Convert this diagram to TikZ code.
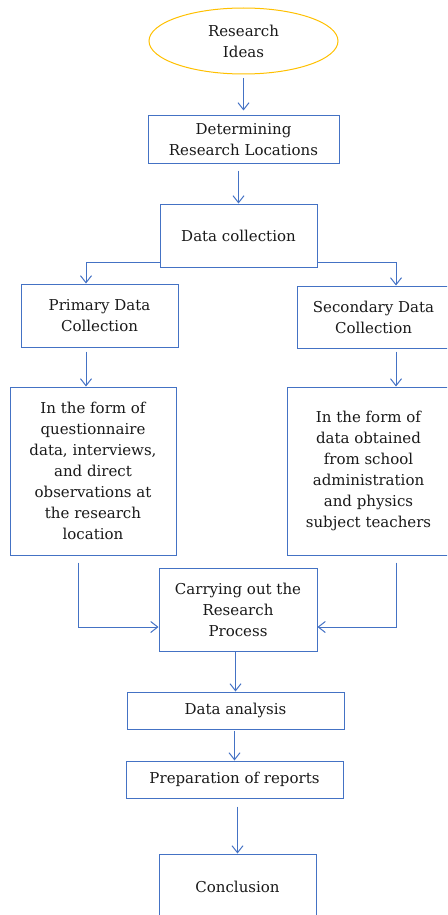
\documentclass[tikz,border=0pt]{standalone}
\usepackage{fontspec}
\setmainfont{DejaVu Serif}
\usetikzlibrary{arrows.meta,calc,shapes.geometric}
\definecolor{lblue}{HTML}{4472C4}
\definecolor{gold}{HTML}{FFC000}
\begin{document}
\begin{tikzpicture}[x=1pt,y=-1pt,
 box/.style={draw=lblue, line width=1pt, align=center, inner sep=0pt, font=\fontsize{15}{21}\selectfont, text=black!90},
 arr/.style={draw=lblue, line width=1pt, -{Straight Barb[length=7pt,width=11pt]}}]
\useasboundingbox (0,0) rectangle (447,915);
\clip (0,0) rectangle (447,915);
\node[box, ellipse, draw=gold, minimum width=189pt, minimum height=66pt] (idea) at (243.5,41) {Research\\Ideas};
\node[box, minimum width=191pt, minimum height=47pt] (loc) at (243.5,139.5) {Determining\\Research Locations};
\node[box, minimum width=157pt, minimum height=63pt] (dc) at (238.5,235.5) {Data collection};
\node[box, minimum width=157pt, minimum height=63pt] (pri) at (99.5,315.5) {Primary Data\\Collection};
\node[box, minimum width=153pt, minimum height=62pt] (sec) at (373.5,317) {Secondary Data\\Collection};
\node[box, minimum width=166pt, minimum height=168pt] (pform) at (93,471) {In the form of\\questionnaire\\data, interviews,\\and direct\\observations at\\the research\\location};
\node[box, minimum width=163pt, minimum height=168pt] (sform) at (368.5,471) {In the form of\\data obtained\\from school\\administration\\and physics\\subject teachers};
\node[box, minimum width=158pt, minimum height=83pt] (carry) at (238,609.5) {Carrying out the\\Research\\Process};
\node[box, minimum width=217pt, minimum height=37pt] (ana) at (235.5,710.5) {Data analysis};
\node[box, minimum width=217pt, minimum height=37pt] (prep) at (234.5,779.5) {Preparation of reports};
\node[box, minimum width=157pt, minimum height=66pt] (conc) at (237.5,887) {Conclusion};
\draw[arr, shorten <=4pt, shorten >=5pt] (idea.south) -- (loc.north);
\draw[arr, shorten <=7pt] (dc.north |- loc.south) -- (dc.north);
\draw[arr] ([yshift=5pt]dc.south west) -| ([xshift=-13.5pt]pri.north);
\draw[arr] ([yshift=5pt]dc.south east) -| ([xshift=22.5pt]sec.north);
\draw[arr, shorten <=4pt] ([xshift=-13.5pt]pri.south) -- ([xshift=-13.5pt]pri.south |- pform.north);
\draw[arr, shorten <=3pt] ([xshift=22.5pt]sec.south) -- ([xshift=22.5pt]sec.south |- sform.north);
\draw[arr] ([xshift=-15pt,yshift=-7pt]pform.south) |- ([yshift=-17.5pt]carry.west);
\draw[arr] ([xshift=27.5pt,yshift=-7pt]sform.south) |- ([yshift=-17.5pt]carry.east);
\draw[arr] (ana.north |- carry.south) -- (ana.north);
\draw[arr, shorten <=1pt] (prep.north |- ana.south) -- (prep.north);
\draw[arr, shorten <=8pt] (conc.north |- prep.south) -- (conc.north);
\end{tikzpicture}
\end{document}
